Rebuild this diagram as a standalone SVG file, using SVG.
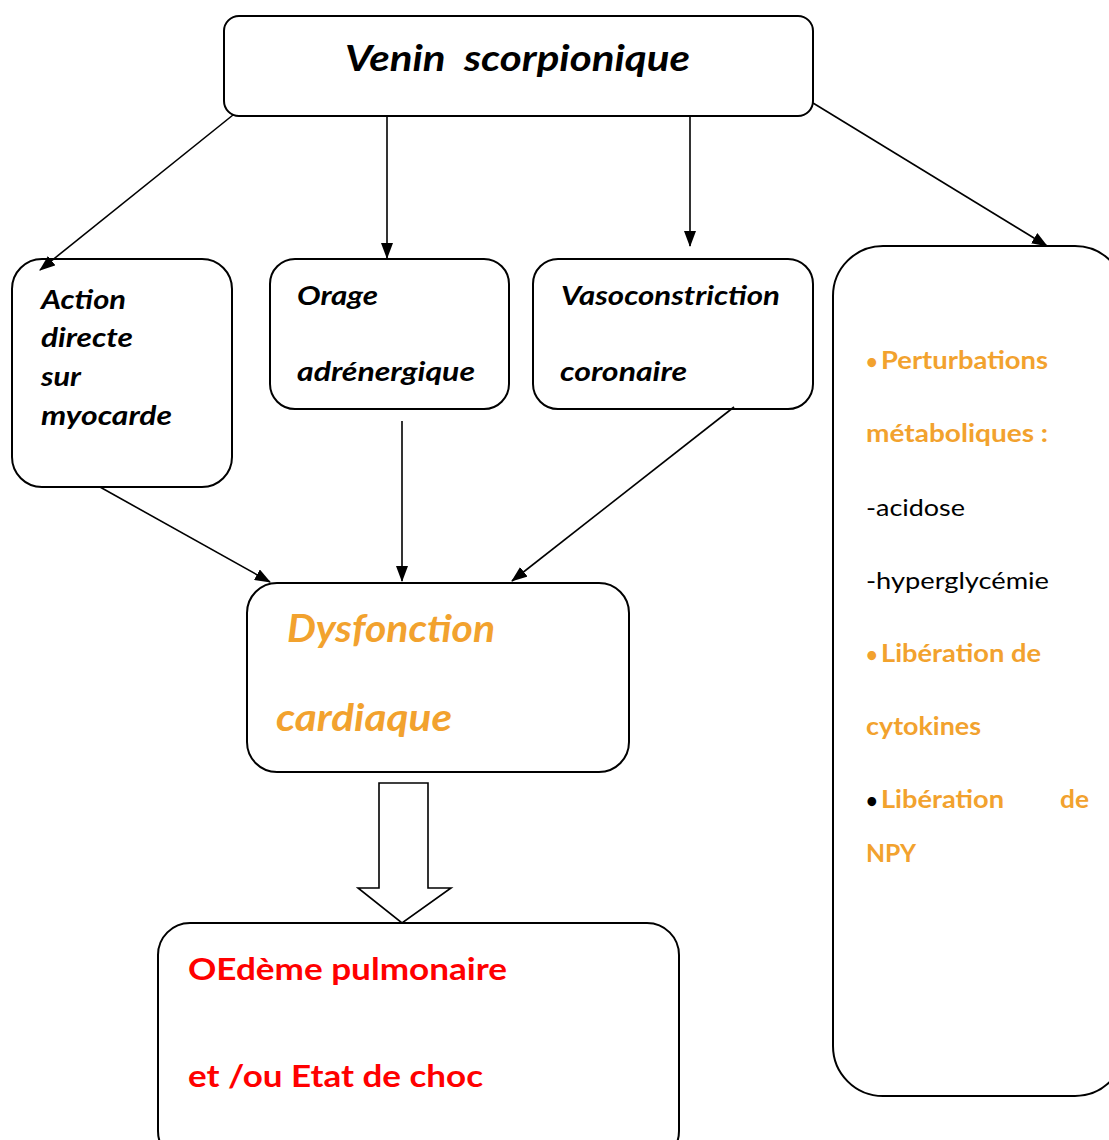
<svg xmlns="http://www.w3.org/2000/svg" width="1109" height="1140" viewBox="0 0 1109 1140">
<style>
.box{fill:#fff;stroke:#000;stroke-width:2}
.ln{stroke:#000;stroke-width:1.6;fill:none}
.bi{font-family:Lato,"Open Sans","Liberation Sans",sans-serif;font-weight:bold;font-style:italic;fill:#000}
.b{font-family:Lato,"Open Sans","Liberation Sans",sans-serif;font-weight:bold}
.r{font-family:Lato,"Open Sans","Liberation Sans",sans-serif;font-weight:normal;fill:#000}
.or{fill:#F2A22E}
.red{fill:#FF0000}
</style>
<defs>
<marker id="ah" markerUnits="userSpaceOnUse" markerWidth="16" markerHeight="12" refX="15" refY="6" orient="auto">
<path d="M0,0 L16,6 L0,12 Z" fill="#000"/>
</marker>
</defs>
<rect width="1109" height="1140" fill="#fff"/>
<g id="venin">
<rect class="box" x="224" y="16" width="589" height="100" rx="15"/>
<text class="bi" x="345" y="71" font-size="36" textLength="345" lengthAdjust="spacingAndGlyphs" xml:space="preserve">Venin  scorpionique</text>
</g>
<g id="action">
<rect class="box" x="12" y="259" width="220" height="228" rx="30"/>
<text class="bi" font-size="26"><tspan x="41" y="309" textLength="85" lengthAdjust="spacingAndGlyphs">Action</tspan><tspan x="41" y="347" textLength="92" lengthAdjust="spacingAndGlyphs">directe</tspan><tspan x="41" y="386" textLength="40" lengthAdjust="spacingAndGlyphs">sur</tspan><tspan x="41" y="425" textLength="131" lengthAdjust="spacingAndGlyphs">myocarde</tspan></text>
</g>
<g id="orage">
<rect class="box" x="270" y="259" width="239" height="150" rx="25"/>
<text class="bi" font-size="26"><tspan x="297" y="305" textLength="81" lengthAdjust="spacingAndGlyphs">Orage</tspan><tspan x="297" y="381" textLength="178" lengthAdjust="spacingAndGlyphs">adrénergique</tspan></text>
</g>
<g id="vaso">
<rect class="box" x="533" y="259" width="280" height="150" rx="25"/>
<text class="bi" font-size="26"><tspan x="561" y="305" textLength="219" lengthAdjust="spacingAndGlyphs">Vasoconstriction</tspan><tspan x="560" y="381" textLength="127" lengthAdjust="spacingAndGlyphs">coronaire</tspan></text>
</g>
<g id="metab">
<rect class="box" x="833" y="246" width="292" height="850" rx="50"/>
<text class="b or" font-size="24" x="866" y="369"><tspan font-size="20">•</tspan><tspan x="881" textLength="167" lengthAdjust="spacingAndGlyphs">Perturbations</tspan></text>
<text class="b or" font-size="24" x="866" y="442" textLength="182" lengthAdjust="spacingAndGlyphs">métaboliques :</text>
<text class="r" font-size="24" x="866" y="516" textLength="99" lengthAdjust="spacingAndGlyphs">-acidose</text>
<text class="r" font-size="24" x="866" y="589" textLength="183" lengthAdjust="spacingAndGlyphs">-hyperglycémie</text>
<text class="b or" font-size="24" x="866" y="662"><tspan font-size="20">•</tspan><tspan x="881" textLength="160" lengthAdjust="spacingAndGlyphs">Libération de</tspan></text>
<text class="b or" font-size="24" x="866" y="735" textLength="115" lengthAdjust="spacingAndGlyphs">cytokines</text>
<text class="b" font-size="20" x="866" y="808" fill="#000">•</text>
<text class="b or" font-size="24" x="881" y="808" textLength="123" lengthAdjust="spacingAndGlyphs">Libération</text>
<text class="b or" font-size="24" x="1060" y="808" textLength="29" lengthAdjust="spacingAndGlyphs">de</text>
<text class="b or" font-size="24" x="866" y="862" textLength="50" lengthAdjust="spacingAndGlyphs">NPY</text>
</g>
<g id="dysf">
<rect class="box" x="247" y="583" width="382" height="189" rx="30"/>
<text class="bi or" font-size="38" x="287" y="642" textLength="208" lengthAdjust="spacingAndGlyphs">Dysfonction</text>
<text class="bi or" font-size="38" x="276" y="731" textLength="176" lengthAdjust="spacingAndGlyphs">cardiaque</text>
</g>
<g id="oedeme">
<rect class="box" x="158" y="923" width="521" height="240" rx="32"/>
<text class="b red" font-size="30" x="188" y="980" textLength="319" lengthAdjust="spacingAndGlyphs">OEdème pulmonaire</text>
<text class="b red" font-size="30" x="188" y="1087" textLength="295" lengthAdjust="spacingAndGlyphs">et /ou Etat de choc</text>
</g>
<g id="connectors">
<line class="ln" x1="233" y1="115" x2="40" y2="270" marker-end="url(#ah)"/>
<line class="ln" x1="387" y1="116" x2="387" y2="258" marker-end="url(#ah)"/>
<line class="ln" x1="690" y1="116" x2="690" y2="246" marker-end="url(#ah)"/>
<line class="ln" x1="813" y1="103" x2="1047" y2="246" marker-end="url(#ah)"/>
<line class="ln" x1="100" y1="487" x2="270" y2="582" marker-end="url(#ah)"/>
<line class="ln" x1="402" y1="421" x2="402" y2="581" marker-end="url(#ah)"/>
<line class="ln" x1="734" y1="407" x2="512" y2="581" marker-end="url(#ah)"/>
<path d="M379,783 L428,783 L428,888 L451,888 L402,923 L358,888 L379,888 Z" fill="#fff" stroke="#000" stroke-width="1.6"/>
</g>
</svg>
